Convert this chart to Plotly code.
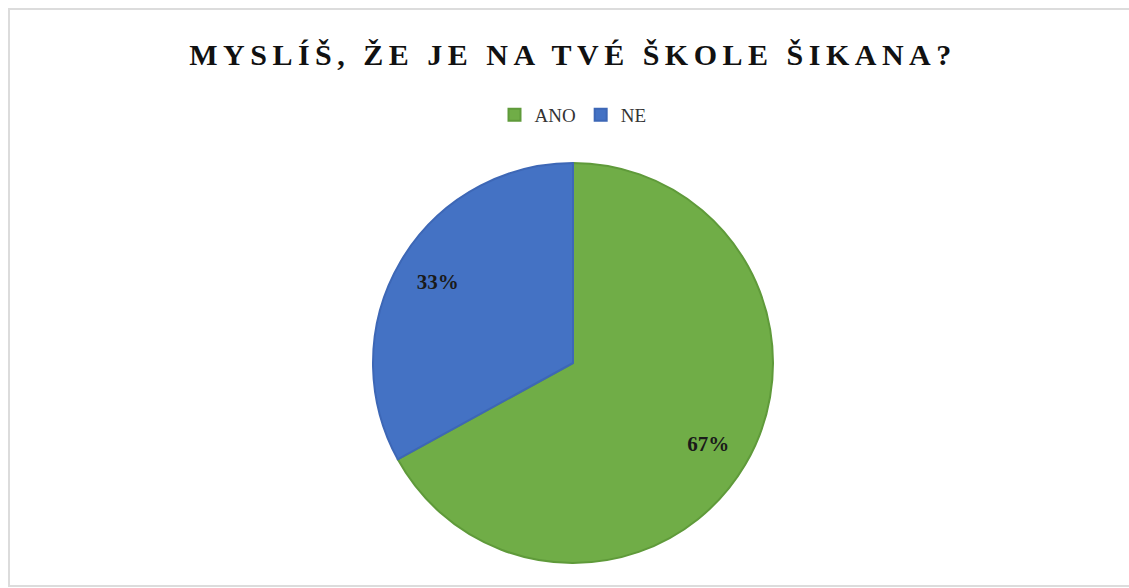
import plotly.graph_objects as go

labels = ["ANO", "NE"]
values = [67, 33]
colors = ["#70AD47", "#4472C4"]
border_colors = ["#5F9A3A", "#3D67B6"]
title_text = "MYSLÍŠ, ŽE JE NA TVÉ ŠKOLE ŠIKANA?"

W, H = 1129, 588
CX, CY, R = 573, 363, 200
R_LABEL = 133


def dom(r):
    return dict(x=[(CX - r) / W, (CX + r) / W], y=[1 - (CY + r) / H, 1 - (CY - r) / H])


fig = go.Figure()

fig.add_trace(
    go.Pie(
        labels=labels,
        values=values,
        sort=False,
        direction="clockwise",
        rotation=0,
        marker=dict(colors=colors, line=dict(color=border_colors, width=2)),
        textinfo="none",
        hoverinfo="label+percent",
        domain=dom(R),
    )
)

# transparent companion pie that carries the percentage labels
fig.add_trace(
    go.Pie(
        labels=labels,
        values=values,
        sort=False,
        direction="clockwise",
        rotation=5,
        marker=dict(colors=["rgba(0,0,0,0)"] * len(values), line=dict(width=0)),
        textinfo="percent",
        textposition="outside",
        textfont=dict(family="Liberation Serif", size=21, color="#1a1a1a", weight="bold"),
        hoverinfo="skip",
        showlegend=False,
        domain=dom(R_LABEL),
        automargin=False,
    )
)

fig.update_layout(
    width=W,
    height=H,
    margin=dict(l=0, r=0, t=0, b=0),
    paper_bgcolor="white",
    plot_bgcolor="white",
    title=dict(
        text="<b>" + title_text + "</b>",
        font=dict(family="Liberation Serif", size=30, color="#111111"),
        x=CX / W,
        xanchor="center",
        xref="paper",
        y=1 - 54 / H,
        yanchor="middle",
        yref="container",
    ),
    legend=dict(
        orientation="h",
        x=CX / W,
        xanchor="center",
        y=1 - 115 / H,
        yanchor="middle",
        font=dict(family="Liberation Serif", size=19, color="#333333"),
        itemwidth=30,
        tracegroupgap=0,
    ),
    shapes=[
        dict(
            type="rect",
            xref="paper",
            yref="paper",
            x0=9 / W,
            x1=1.01,
            y0=1 - 586 / H,
            y1=1 - 9 / H,
            line=dict(color="#dcdcdc", width=2),
            fillcolor="rgba(0,0,0,0)",
            layer="below",
        )
    ],
)

post = """
document.body.style.margin = '0';
document.body.style.padding = '0';
var gd = document.getElementById('{plot_id}');
function fixTitle() {
  document.querySelectorAll('.gtitle').forEach(function (e) {
    e.style.letterSpacing = '5.5px';
  });
}
fixTitle();
if (gd && gd.on) { gd.on('plotly_afterplot', fixTitle); }
"""

fig.write_html("out.html", post_script=post, config={"displayModeBar": False})
